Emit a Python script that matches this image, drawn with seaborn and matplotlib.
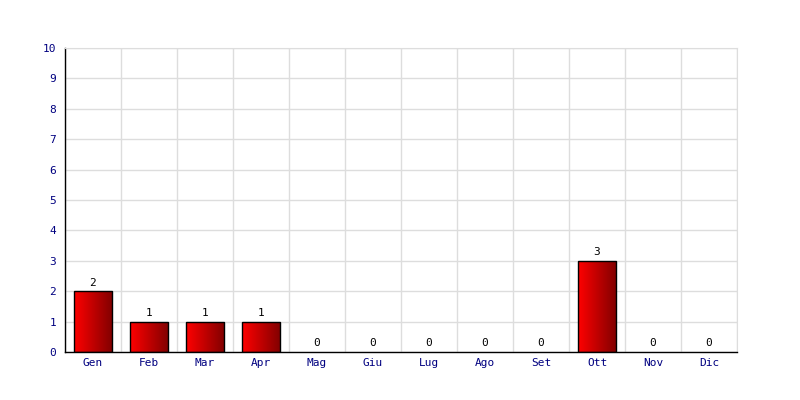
import numpy as np
import pandas as pd
import matplotlib
matplotlib.use('Agg')
import matplotlib.pyplot as plt
import seaborn as sns
from matplotlib.colors import LinearSegmentedColormap

# Dati mensili
mesi = ['Gen', 'Feb', 'Mar', 'Apr', 'Mag', 'Giu', 'Lug', 'Ago', 'Set', 'Ott', 'Nov', 'Dic']
valori = [2, 1, 1, 1, 0, 0, 0, 0, 0, 3, 0, 0]

df = pd.DataFrame({'mese': mesi, 'valore': valori})

sns.set_style('white')
plt.rcParams['font.family'] = ['DejaVu Sans Mono']

fig = plt.figure(figsize=(8, 4), dpi=100)
ax = fig.add_axes([0.08125, 0.12, 0.84, 0.76])

sns.barplot(data=df, x='mese', y='valore', width=0.68, color='red',
            edgecolor='black', linewidth=1, ax=ax, zorder=3)

# Gradiente rosso -> rosso scuro sulle barre
cmap = LinearSegmentedColormap.from_list('rosso', ['#ff0000', '#800000'])
grad = np.linspace(0, 1, 256).reshape(1, -1)
for p in ax.patches:
    if p.get_height() <= 0:
        p.set_visible(False)
        continue
    x0, y0 = p.get_x(), p.get_y()
    w, h = p.get_width(), p.get_height()
    p.set_facecolor('none')
    im = ax.imshow(grad, cmap=cmap, aspect='auto', extent=[x0, x0 + w, y0, y0 + h],
                   zorder=2.5, interpolation='bicubic')
    im.set_clip_path(p)

for i, v in enumerate(valori):
    ax.text(i, v + 0.12, str(v), ha='center', va='bottom', fontsize=8, color='black')

ax.set_xlim(-0.5, len(mesi) - 0.5)
ax.set_ylim(0, 10)
ax.set_yticks(range(0, 11))
ax.set_xticks(np.arange(-0.5, len(mesi), 1), minor=True)
ax.grid(True, which='minor', axis='x', color='#dddddd', linewidth=1, zorder=0)
ax.grid(True, which='major', axis='y', color='#dddddd', linewidth=1, zorder=0)
ax.set_axisbelow(True)
ax.tick_params(axis='both', which='major', labelsize=8, labelcolor='#000080', length=3, color='black')
ax.tick_params(axis='x', which='major', length=0, pad=4)
ax.tick_params(axis='x', which='minor', length=0)
ax.set_xlabel('')
ax.set_ylabel('')
for s in ['top', 'right']:
    ax.spines[s].set_color('#dddddd')
for s in ['left', 'bottom']:
    ax.spines[s].set_color('black')
    ax.spines[s].set_linewidth(1)

fig.savefig('out.png', dpi=100)
